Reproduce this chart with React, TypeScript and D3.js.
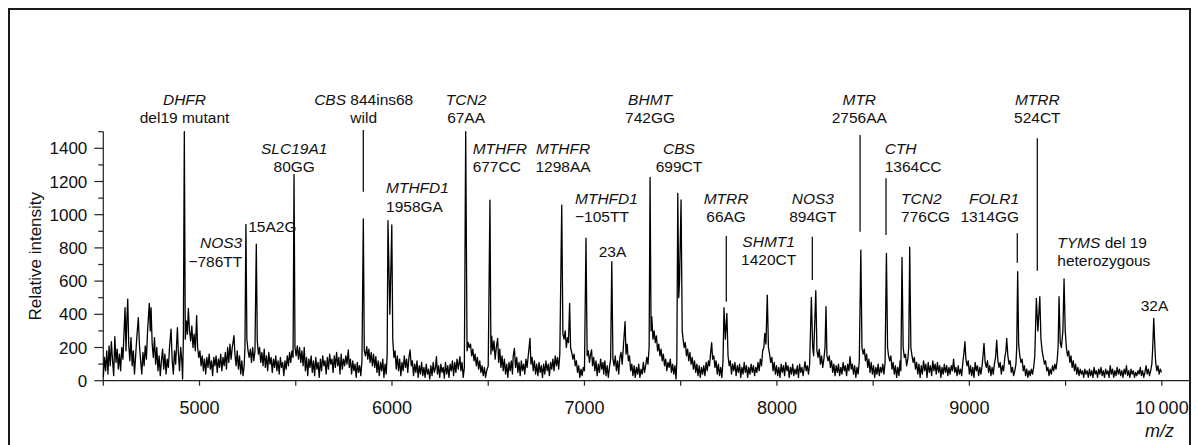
import React from "react";
import * as d3 from "d3";

// Mass spectrum: flat list of [m/z, relative intensity]
const spectrum: [number, number][] = [
  [4500, 20], [4506, 140], [4512, 60], [4518, 180], [4524, 40], [4530, 210], [4536, 90], [4542, 235], [4548, 120], [4554, 30],
  [4560, 265], [4566, 110], [4572, 190], [4578, 70], [4584, 160], [4590, 60], [4596, 200], [4602, 130], [4608, 300], [4613, 440],
  [4618, 180], [4622, 350], [4627, 492], [4632, 220], [4638, 120], [4644, 260], [4650, 90], [4656, 180], [4662, 40], [4668, 150],
  [4674, 260], [4682, 380], [4688, 210], [4694, 120], [4700, 40], [4706, 170], [4712, 90], [4718, 210], [4724, 130], [4730, 300],
  [4739, 466], [4744, 300], [4748, 440], [4754, 220], [4760, 140], [4766, 260], [4772, 100], [4778, 200], [4784, 60], [4790, 150],
  [4796, 30], [4802, 120], [4808, 190], [4814, 70], [4820, 160], [4826, 40], [4832, 130], [4838, 80], [4844, 200], [4852, 311],
  [4858, 120], [4864, 40], [4870, 180], [4876, 100], [4885, 319], [4890, 170], [4896, 60], [4902, 200], [4908, 120], [4912, 10],
  [4916, 260], [4921, 1500], [4926, 250], [4932, 360], [4937, 280], [4942, 436], [4948, 300], [4954, 240], [4960, 330], [4966, 200],
  [4972, 280], [4978, 180], [4985, 392], [4990, 200], [4996, 140], [5002, 180], [5008, 90], [5014, 150], [5020, 60], [5026, 130],
  [5032, 40], [5038, 140], [5044, 80], [5050, 160], [5056, 70], [5062, 120], [5068, 30], [5074, 140], [5080, 90], [5086, 150],
  [5092, 50], [5098, 130], [5104, 80], [5110, 160], [5116, 60], [5122, 140], [5128, 90], [5134, 170], [5140, 70], [5146, 200],
  [5152, 110], [5158, 220], [5164, 130], [5170, 200], [5179, 271], [5184, 160], [5190, 90], [5196, 180], [5202, 70], [5208, 150],
  [5214, 40], [5220, 120], [5226, 30], [5232, 90], [5236, 200], [5241, 942], [5246, 250], [5252, 180], [5258, 140], [5264, 190],
  [5270, 110], [5276, 200], [5282, 120], [5288, 180], [5295, 822], [5300, 240], [5306, 160], [5312, 200], [5318, 110], [5324, 170],
  [5330, 90], [5336, 190], [5342, 80], [5348, 150], [5354, 60], [5360, 170], [5366, 100], [5372, 140], [5378, 50], [5384, 130],
  [5390, 80], [5396, 150], [5402, 60], [5408, 120], [5414, 40], [5420, 140], [5426, 80], [5432, 110], [5438, 30], [5444, 120],
  [5450, 70], [5456, 150], [5462, 90], [5468, 170], [5474, 110], [5480, 180], [5486, 140], [5491, 1243], [5496, 200], [5502, 150],
  [5508, 210], [5514, 130], [5520, 200], [5526, 110], [5532, 180], [5538, 90], [5544, 200], [5550, 60], [5556, 140], [5562, 30],
  [5568, 130], [5574, 80], [5580, 150], [5586, 50], [5592, 120], [5598, 30], [5604, 140], [5610, 70], [5616, 110], [5622, 20],
  [5628, 130], [5634, 60], [5640, 150], [5646, 90], [5652, 120], [5658, 40], [5664, 140], [5670, 70], [5676, 160], [5682, 100],
  [5688, 130], [5694, 50], [5700, 150], [5706, 80], [5712, 170], [5718, 90], [5724, 140], [5730, 40], [5736, 160], [5742, 70],
  [5748, 130], [5754, 90], [5760, 150], [5766, 100], [5773, 185], [5778, 80], [5784, 130], [5790, 40], [5796, 120], [5802, 60],
  [5808, 100], [5814, 20], [5820, 110], [5826, 50], [5832, 90], [5838, 30], [5844, 120], [5851, 974], [5856, 180], [5862, 150],
  [5869, 205], [5874, 130], [5880, 190], [5886, 110], [5892, 170], [5898, 90], [5904, 160], [5910, 80], [5916, 145], [5922, 50],
  [5928, 120], [5934, 30], [5940, 110], [5946, 60], [5952, 130], [5958, 20], [5964, 100], [5970, 40], [5975, 160], [5979, 964],
  [5989, 400], [5999, 938], [6004, 250], [6010, 140], [6016, 180], [6022, 70], [6028, 150], [6034, 60], [6040, 130], [6046, 30],
  [6052, 110], [6058, 60], [6064, 150], [6070, 80], [6076, 130], [6082, 50], [6088, 140], [6094, 185], [6100, 90], [6106, 120],
  [6112, 30], [6118, 100], [6124, 50], [6130, 120], [6136, 20], [6142, 90], [6148, 40], [6154, 110], [6160, 30], [6166, 80],
  [6172, 20], [6178, 100], [6184, 40], [6190, 70], [6196, 10], [6202, 90], [6208, 30], [6214, 110], [6220, 50], [6226, 80],
  [6231, 145], [6236, 40], [6242, 90], [6248, 20], [6254, 100], [6260, 50], [6266, 80], [6272, 15], [6278, 110], [6284, 40],
  [6290, 90], [6296, 20], [6302, 100], [6308, 60], [6314, 120], [6320, 30], [6326, 110], [6332, 50], [6338, 130], [6344, 70],
  [6353, 145], [6358, 60], [6364, 110], [6370, 20], [6376, 80], [6383, 1500], [6390, 180], [6396, 230], [6402, 200], [6408, 220],
  [6414, 150], [6420, 190], [6426, 120], [6432, 160], [6438, 90], [6444, 140], [6450, 70], [6456, 120], [6462, 50], [6468, 90],
  [6474, 30], [6480, 80], [6486, 20], [6492, 60], [6500, 90], [6509, 1088], [6514, 160], [6518, 269], [6524, 180], [6530, 240],
  [6536, 130], [6542, 200], [6549, 255], [6554, 110], [6560, 190], [6566, 80], [6572, 150], [6578, 60], [6584, 130], [6590, 40],
  [6596, 100], [6602, 20], [6608, 110], [6614, 60], [6620, 120], [6626, 40], [6630, 150], [6636, 195], [6642, 80], [6648, 140],
  [6654, 50], [6660, 110], [6666, 30], [6672, 120], [6678, 60], [6684, 100], [6690, 40], [6696, 130], [6702, 80], [6708, 150],
  [6717, 255], [6722, 100], [6728, 140], [6734, 60], [6740, 120], [6746, 40], [6752, 100], [6758, 30], [6764, 110], [6770, 50],
  [6776, 90], [6782, 20], [6788, 100], [6794, 40], [6800, 120], [6806, 60], [6812, 100], [6818, 30], [6824, 110], [6830, 70],
  [6836, 130], [6842, 60], [6848, 150], [6854, 90], [6860, 140], [6866, 70], [6872, 160], [6882, 1058], [6888, 280], [6894, 250],
  [6900, 300], [6906, 200], [6912, 260], [6917, 230], [6923, 466], [6928, 200], [6934, 170], [6940, 130], [6946, 160], [6952, 90],
  [6958, 120], [6964, 50], [6970, 90], [6976, 20], [6982, 70], [6988, 30], [6994, 80], [7000, 60], [7008, 858], [7014, 150],
  [7020, 180], [7026, 110], [7032, 160], [7037, 185], [7042, 90], [7048, 140], [7054, 60], [7060, 120], [7066, 30], [7072, 100],
  [7078, 50], [7084, 130], [7090, 70], [7096, 110], [7100, 40], [7106, 120], [7112, 30], [7118, 90], [7124, 20], [7130, 80],
  [7136, 130], [7142, 717], [7148, 130], [7154, 90], [7160, 150], [7166, 60], [7172, 120], [7178, 40], [7184, 140], [7190, 170],
  [7196, 100], [7202, 200], [7211, 355], [7216, 160], [7222, 220], [7228, 120], [7234, 150], [7240, 60], [7246, 100], [7252, 30],
  [7258, 90], [7264, 20], [7270, 80], [7276, 40], [7282, 100], [7288, 20], [7294, 70], [7300, 40], [7306, 110], [7312, 50],
  [7318, 90], [7324, 140], [7330, 100], [7336, 200], [7341, 1225], [7346, 300], [7350, 385], [7356, 250], [7362, 300], [7368, 230],
  [7374, 270], [7380, 180], [7386, 220], [7392, 150], [7398, 190], [7404, 120], [7410, 160], [7416, 90], [7422, 130], [7428, 60],
  [7434, 110], [7440, 80], [7446, 130], [7452, 50], [7458, 100], [7464, 40], [7470, 90], [7476, 10], [7480, 120], [7485, 1129],
  [7490, 500], [7494, 600], [7502, 1089], [7508, 300], [7512, 255], [7518, 200], [7524, 230], [7530, 150], [7536, 190], [7542, 120],
  [7548, 170], [7554, 100], [7560, 140], [7566, 70], [7572, 120], [7578, 50], [7584, 100], [7590, 30], [7596, 90], [7602, 20],
  [7608, 80], [7614, 40], [7620, 90], [7626, 30], [7632, 110], [7638, 60], [7644, 120], [7650, 90], [7655, 160], [7661, 229],
  [7666, 130], [7672, 150], [7678, 80], [7684, 120], [7690, 40], [7696, 100], [7702, 30], [7708, 80], [7714, 20], [7720, 120],
  [7725, 440], [7732, 250], [7740, 406], [7746, 150], [7752, 90], [7758, 120], [7764, 40], [7770, 100], [7776, 60], [7782, 110],
  [7788, 30], [7794, 90], [7800, 50], [7806, 100], [7812, 20], [7818, 80], [7824, 40], [7830, 110], [7836, 50], [7842, 90],
  [7848, 20], [7854, 80], [7860, 40], [7866, 100], [7872, 50], [7878, 90], [7884, 30], [7890, 80], [7896, 50], [7902, 110],
  [7908, 60], [7914, 130], [7920, 90], [7926, 180], [7932, 200], [7937, 285], [7943, 220], [7950, 516], [7956, 200], [7962, 160],
  [7968, 110], [7974, 140], [7980, 60], [7986, 110], [7992, 40], [7998, 90], [8004, 30], [8010, 80], [8016, 20], [8022, 100],
  [8028, 50], [8034, 90], [8040, 30], [8046, 110], [8052, 60], [8058, 90], [8064, 20], [8070, 80], [8076, 40], [8082, 100],
  [8088, 30], [8094, 70], [8100, 40], [8106, 90], [8112, 20], [8118, 100], [8124, 50], [8130, 80], [8136, 30], [8146, 115],
  [8152, 60], [8158, 90], [8164, 40], [8170, 100], [8179, 502], [8186, 200], [8191, 150], [8202, 542], [8208, 180], [8214, 140],
  [8220, 190], [8226, 100], [8232, 150], [8238, 80], [8244, 130], [8250, 200], [8255, 446], [8260, 150], [8266, 120], [8272, 150],
  [8278, 80], [8284, 120], [8290, 50], [8296, 100], [8302, 30], [8308, 90], [8314, 50], [8320, 100], [8326, 30], [8332, 80],
  [8338, 40], [8344, 110], [8350, 60], [8356, 90], [8362, 30], [8368, 100], [8374, 60], [8380, 145], [8386, 70], [8392, 100],
  [8398, 40], [8404, 90], [8410, 20], [8416, 80], [8422, 40], [8428, 120], [8436, 787], [8442, 200], [8448, 160], [8454, 190],
  [8460, 120], [8466, 160], [8472, 80], [8478, 130], [8484, 50], [8490, 110], [8496, 40], [8502, 90], [8508, 20], [8514, 80],
  [8520, 40], [8526, 100], [8532, 30], [8538, 80], [8544, 50], [8550, 100], [8556, 40], [8562, 110], [8569, 767], [8575, 200],
  [8580, 150], [8586, 120], [8592, 150], [8598, 70], [8604, 110], [8610, 40], [8616, 90], [8622, 20], [8628, 80], [8634, 30],
  [8640, 120], [8644, 60], [8650, 743], [8656, 200], [8662, 140], [8668, 160], [8674, 90], [8680, 130], [8685, 200], [8690, 804],
  [8696, 200], [8702, 150], [8708, 110], [8714, 140], [8720, 70], [8726, 110], [8732, 40], [8738, 100], [8744, 20], [8750, 90],
  [8756, 40], [8762, 120], [8768, 60], [8774, 100], [8780, 20], [8786, 110], [8792, 50], [8798, 90], [8804, 30], [8810, 120],
  [8816, 60], [8822, 100], [8828, 40], [8834, 110], [8840, 50], [8846, 90], [8852, 20], [8858, 80], [8864, 40], [8870, 100],
  [8876, 50], [8882, 90], [8888, 30], [8894, 80], [8900, 40], [8906, 90], [8912, 60], [8918, 130], [8924, 50], [8930, 80],
  [8936, 30], [8942, 90], [8948, 40], [8954, 70], [8960, 30], [8966, 110], [8971, 160], [8977, 235], [8982, 130], [8988, 90],
  [8994, 120], [9000, 40], [9006, 90], [9012, 30], [9018, 80], [9024, 20], [9030, 110], [9036, 60], [9042, 90], [9048, 30],
  [9054, 80], [9060, 40], [9066, 90], [9071, 150], [9076, 225], [9082, 110], [9088, 80], [9094, 120], [9100, 50], [9106, 90],
  [9112, 30], [9118, 80], [9124, 40], [9130, 100], [9136, 140], [9142, 245], [9148, 120], [9154, 80], [9160, 110], [9166, 40],
  [9172, 90], [9178, 60], [9184, 140], [9190, 180], [9194, 255], [9200, 150], [9206, 100], [9212, 120], [9218, 50], [9224, 80],
  [9230, 30], [9236, 60], [9242, 100], [9246, 200], [9251, 657], [9256, 220], [9262, 150], [9268, 110], [9274, 130], [9280, 60],
  [9286, 90], [9292, 30], [9298, 70], [9304, 20], [9310, 60], [9316, 30], [9322, 70], [9328, 40], [9334, 80], [9340, 150],
  [9348, 496], [9356, 300], [9366, 506], [9372, 250], [9378, 180], [9384, 140], [9390, 100], [9396, 120], [9402, 60], [9408, 80],
  [9414, 30], [9420, 70], [9426, 40], [9432, 90], [9438, 60], [9444, 100], [9450, 70], [9456, 120], [9461, 200], [9466, 506],
  [9472, 230], [9478, 200], [9486, 300], [9492, 613], [9498, 300], [9504, 200], [9510, 150], [9516, 180], [9522, 110], [9528, 150],
  [9534, 80], [9540, 120], [9546, 60], [9552, 100], [9558, 40], [9564, 80], [9570, 30], [9576, 70], [9582, 40], [9588, 60],
  [9594, 20], [9600, 70], [9606, 40], [9612, 60], [9618, 20], [9624, 70], [9630, 30], [9636, 60], [9642, 20], [9648, 80],
  [9654, 40], [9660, 60], [9666, 20], [9672, 70], [9678, 40], [9684, 80], [9690, 30], [9696, 60], [9702, 20], [9708, 70],
  [9714, 40], [9720, 60], [9726, 20], [9732, 90], [9738, 40], [9744, 70], [9750, 20], [9756, 60], [9762, 30], [9768, 80],
  [9774, 40], [9780, 70], [9786, 30], [9792, 60], [9798, 20], [9804, 70], [9810, 40], [9816, 90], [9822, 30], [9828, 60],
  [9834, 20], [9840, 70], [9846, 40], [9852, 60], [9858, 20], [9864, 50], [9870, 30], [9876, 60], [9882, 40], [9888, 80],
  [9894, 30], [9900, 60], [9906, 20], [9912, 50], [9918, 90], [9924, 40], [9930, 70], [9936, 30], [9942, 60], [9948, 100],
  [9952, 180], [9958, 376], [9964, 200], [9968, 110], [9974, 60], [9980, 90], [9986, 40], [9992, 70], [9998, 50],
];

const xTickValues = [4500, 5000, 5500, 6000, 6500, 7000, 7500, 8000, 8500, 9000, 9500, 10000];
const xTickLabels: Record<number, string> = {
  5000: "5000", 6000: "6000", 7000: "7000", 8000: "8000", 9000: "9000", 10000: "10\u2009000",
};
const yTickValues = [0, 100, 200, 300, 400, 500, 600, 700, 800, 900, 1000, 1100, 1200, 1300, 1400, 1500];
const yTickLabels = [0, 200, 400, 600, 800, 1000, 1200, 1400];

const xAxisTitle = "m/z";
const yAxisTitle = "Relative intensity";

type Annotation = {
  gene: string; // italic part
  rest: string; // upright part on first line
  line2: string;
  mz: number; // text anchor position (m/z)
  level: number; // first-line baseline (intensity units)
  align: "start" | "middle" | "end";
  tick?: [number, number, number]; // [m/z, top intensity, bottom intensity]
};

const annotations: Annotation[] = [
  { gene: "DHFR", rest: "", line2: "del19 mutant", mz: 4922, level: 1661, align: "middle" },
  { gene: "NOS3", rest: "", line2: "\u2212786TT", mz: 5222, level: 798, align: "end" },
  { gene: "", rest: "15A2G", line2: "", mz: 5253, level: 898, align: "start" },
  { gene: "SLC19A1", rest: "", line2: "80GG", mz: 5492, level: 1366, align: "middle" },
  { gene: "CBS", rest: " 844ins68", line2: "wild", mz: 5853, level: 1661, align: "middle", tick: [5851, 1510, 1139] },
  { gene: "MTHFD1", rest: "", line2: "1958GA", mz: 5969, level: 1129, align: "start" },
  { gene: "TCN2", rest: "", line2: "67AA", mz: 6385, level: 1661, align: "middle" },
  { gene: "MTHFR", rest: "", line2: "677CC", mz: 6419, level: 1366, align: "start" },
  { gene: "MTHFR", rest: "", line2: "1298AA", mz: 6889, level: 1366, align: "middle" },
  { gene: "MTHFD1", rest: "", line2: "\u2212105TT", mz: 6951, level: 1064, align: "start" },
  { gene: "", rest: "23A", line2: "", mz: 7146, level: 743, align: "middle" },
  { gene: "BHMT", rest: "", line2: "742GG", mz: 7341, level: 1661, align: "middle" },
  { gene: "CBS", rest: "", line2: "699CT", mz: 7491, level: 1366, align: "middle" },
  { gene: "MTRR", rest: "", line2: "66AG", mz: 7736, level: 1064, align: "middle", tick: [7737, 872, 476] },
  { gene: "SHMT1", rest: "", line2: "1420CT", mz: 7957, level: 807, align: "middle" },
  { gene: "NOS3", rest: "", line2: "894GT", mz: 8187, level: 1064, align: "middle", tick: [8184, 867, 607] },
  { gene: "MTR", rest: "", line2: "2756AA", mz: 8428, level: 1661, align: "middle", tick: [8432, 1480, 898] },
  { gene: "CTH", rest: "", line2: "1364CC", mz: 8560, level: 1366, align: "start", tick: [8567, 1219, 878] },
  { gene: "TCN2", rest: "", line2: "776CG", mz: 8645, level: 1064, align: "start" },
  { gene: "FOLR1", rest: "", line2: "1314GG", mz: 9258, level: 1064, align: "end", tick: [9249, 888, 711] },
  { gene: "MTRR", rest: "", line2: "524CT", mz: 9353, level: 1661, align: "middle", tick: [9353, 1460, 663] },
  { gene: "TYMS", rest: " del 19", line2: "heterozygous", mz: 9457, level: 799, align: "start" },
  { gene: "", rest: "32A", line2: "", mz: 9962, level: 422, align: "middle" },
];

const W = 1197;
const H = 445;
const FONT = "'Liberation Sans', Arial, Helvetica, sans-serif";

export default function App() {
  const x = d3.scaleLinear().domain([4500, 10150]).range([103.3, 1190.7]);
  const y = d3.scaleLinear().domain([0, 1500]).range([380.7, 131.7]);
  const line = d3
    .line<[number, number]>()
    .x((d) => x(d[0]))
    .y((d) => y(d[1]));
  const x0 = x(4500);
  const y0 = y(0);

  return (
    <svg
      width={W}
      height={H}
      viewBox={`0 0 ${W} ${H}`}
      style={{ position: "absolute", left: 0, top: 0, background: "#fff" }}
      fontFamily={FONT}
    >
      <rect x={0} y={0} width={W} height={H} fill="#fff" />
      <rect x={9} y={9} width={1181} height={450} fill="none" stroke="#1a1a1a" strokeWidth={2} />

      {/* axes */}
      <line x1={x0} x2={x(10150)} y1={y0} y2={y0} stroke="#222" strokeWidth={1.2} />
      <line x1={x0} x2={x0} y1={y0} y2={y(1500)} stroke="#222" strokeWidth={1.2} />
      {xTickValues.map((v) => (
        <g key={"xt" + v}>
          <line x1={x(v)} x2={x(v)} y1={y0} y2={y0 + 5} stroke="#222" strokeWidth={1.2} />
          {xTickLabels[v] && (
            <text x={x(v)} y={413.5} textAnchor="middle" fontSize={18} fill="#111">
              {xTickLabels[v]}
            </text>
          )}
        </g>
      ))}
      {yTickValues.map((v) => {
        const major = yTickLabels.includes(v);
        return (
          <g key={"yt" + v}>
            <line x1={x0 - (major ? 9 : 5)} x2={x0} y1={y(v)} y2={y(v)} stroke="#222" strokeWidth={1.2} />
            {major && (
              <text x={x0 - 16} y={y(v)} dy="0.36em" textAnchor="end" fontSize={17} fill="#111">
                {v}
              </text>
            )}
          </g>
        );
      })}
      <text
        transform={`translate(41, ${y(750)}) rotate(-90)`}
        textAnchor="middle"
        fontSize={17}
        fill="#111"
      >
        {yAxisTitle}
      </text>
      <text x={1174} y={436.5} textAnchor="end" fontSize={18} fontStyle="italic" fill="#111">
        {xAxisTitle}
      </text>

      {/* spectrum */}
      <path d={line(spectrum) || ""} fill="none" stroke="#000" strokeWidth={1.3} strokeLinejoin="round" />

      {/* annotations */}
      {annotations.map((a, i) => (
        <g key={"an" + i} fontSize={15.5} fill="#111">
          <text x={x(a.mz)} y={y(a.level)} textAnchor={a.align}>
            {a.gene && <tspan fontStyle="italic">{a.gene}</tspan>}
            {a.rest && <tspan>{a.rest}</tspan>}
          </text>
          {a.line2 && (
            <text x={x(a.mz)} y={y(a.level) + 18.3} textAnchor={a.align}>
              {a.line2}
            </text>
          )}
          {a.tick && (
            <line
              x1={x(a.tick[0])}
              x2={x(a.tick[0])}
              y1={y(a.tick[1])}
              y2={y(a.tick[2])}
              stroke="#111"
              strokeWidth={1.3}
            />
          )}
        </g>
      ))}
    </svg>
  );
}
